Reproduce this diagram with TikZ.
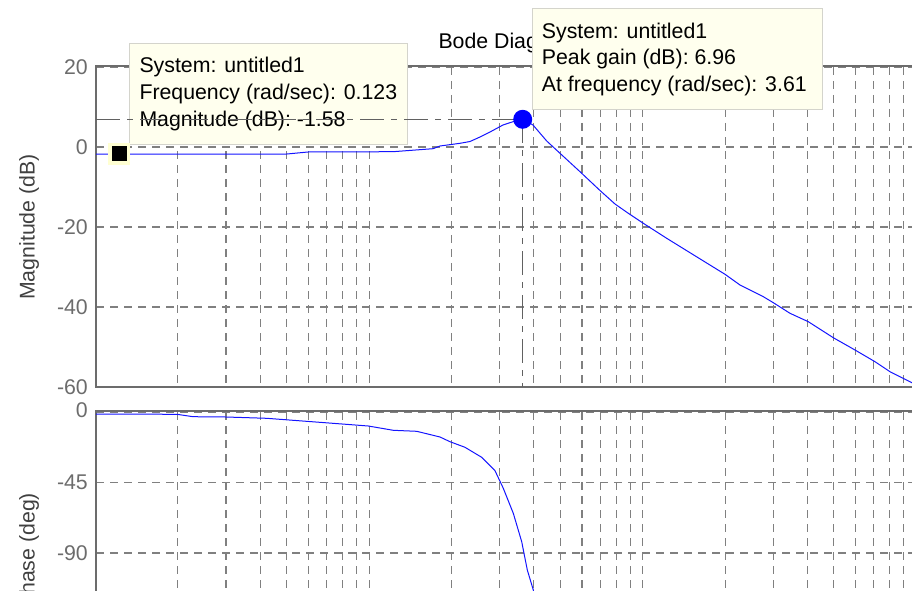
\documentclass[tikz,border=0pt]{standalone}
\usepackage{fontspec}
\setmainfont{Liberation Sans}
\definecolor{tipfill}{RGB}{255,255,238}
\definecolor{tiphalo}{RGB}{255,255,210}
\definecolor{tipedge}{RGB}{212,212,204}
\definecolor{axisgray}{RGB}{108,108,108}
\definecolor{gridgray}{RGB}{128,128,128}
\definecolor{curveblue}{RGB}{20,20,255}
\newcommand{\plotfont}{\fontsize{21.3}{26}\selectfont}
\begin{document}
\begin{tikzpicture}[x=1pt,y=-1pt,
  gridline/.style={draw=gridgray, line width=1.1pt, dash pattern=on 8pt off 6pt},
  axisline/.style={draw=axisgray, line width=1.5pt},
  ticklabel/.style={text=axisgray, font=\plotfont, anchor=east, inner sep=0pt},
  ylab/.style={text=black!75, font=\plotfont, rotate=90, inner sep=0pt},
  response/.style={draw=curveblue, line width=1pt, line join=round},
  tipbox/.style={draw=tipedge, fill=tipfill, line width=1pt, inner sep=0pt, anchor=north west},
  tiptext/.style={anchor=base west, inner sep=0pt, font=\plotfont},
  refline/.style={draw=black!62, line width=1.5pt, dash pattern=on 24pt off 7pt on 6pt off 7pt},
]
\useasboundingbox (0,0) rectangle (912,591);
\clip (0,0) rectangle (912,591);

% title (partly hidden by the peak data tip)
\node[anchor=base west, inner sep=0pt, font=\plotfont] (title) at (438.3,49) {Bode Diagram};

% log-frequency grid, 0.1 ... 100 rad/sec
\foreach \d in {0,1,2}{
  \foreach \m in {2,...,10}{
    \pgfmathsetmacro\gx{95.5+273.6*(\d+log10(\m))}
    \draw[gridline] (\gx,67) -- (\gx,387);
    \draw[gridline] (\gx,412) -- (\gx,600);
  }
}
\foreach \gy in {67.5,147,227,307}{
  \draw[gridline] (96,\gy) -- (920,\gy);
}
\foreach \gy in {412.5,482.5,553}{
  \draw[gridline] (96,\gy) -- (920,\gy);
}

% axes frames
\draw[axisline] (920,66) -- (96,66) -- (96,387) -- (920,387);
\draw[axisline] (920,411) -- (96,411) -- (96,600);

% tick labels
\node[ticklabel] (m20) at (88,67) {20};
\node[ticklabel] (m0) at (88,147.5) {0};
\node[ticklabel] (m-20) at (88,227.5) {-20};
\node[ticklabel] (m-40) at (88,307.5) {-40};
\node[ticklabel] (m-60) at (88,387) {-60};
\node[ticklabel] (p0) at (88,410) {0};
\node[ticklabel] (p-45) at (88,482.5) {-45};
\node[ticklabel] (p-90) at (88,553) {-90};

% axis labels
\node[ylab] (maglabel) at (29,227) {Magnitude (dB)};
\node[ylab] (phaselabel) at (29,551) {Phase (deg)};

% magnitude response
\draw[response] plot coordinates {
  (96,154) (287,154) (308,152) (393,151.7) (433,148.7) (440,146) (460,143.3)
  (470,141.5) (480,137) (490,132) (503,125) (513,121.7) (522.7,119.3)
  (533,125) (546.7,141) (560,153.3) (580,171.7) (600,190.5) (615,204)
  (628.3,213.3) (643.3,223.3) (666.7,238.3) (690,252.7) (725,274.3)
  (740,285) (763.3,296.7) (773.3,302.7) (790,313.3) (808.3,321.7)
  (833.3,337.7) (855,350) (875,361.7) (890,371.7) (912,382.7) (922,388)};

% phase response
\draw[response] plot coordinates {
  (96,414) (177,414.3) (193,416.7) (226,417) (266.7,418.3) (325,422.7)
  (368.3,426) (393.3,430.3) (416.7,431.3) (440,437) (450,441.7)
  (465,447.3) (481.7,457.3) (495,470.7) (503.3,488.3) (513.3,513.3)
  (521.7,541.7) (527.3,570) (533.3,590) (535,600)};

% data tips
\node[tipbox, minimum width=278.3pt, minimum height=101.3pt] (tipA) at (129,42.7) {};
\node[tiptext] (tipA1) at (139.3,72.7) {System: untitled1};
\node[tiptext] (tipA2) at (139.3,99.3) {Frequency (rad/sec): 0.123};
\node[tiptext] (tipA3) at (139.3,126) {Magnitude (dB): -1.58};

\node[tipbox, minimum width=290pt, minimum height=101pt] (tipB) at (531.7,8.3) {};
\node[tiptext] (tipB1) at (541.7,38.3) {System: untitled1};
\node[tiptext] (tipB2) at (541.7,64.9) {Peak gain (dB): 6.96};
\node[tiptext] (tipB3) at (541.7,91.5) {At frequency (rad/sec): 3.61};

% peak reference lines
\coordinate (peakpt) at (522.7,119.3);
\coordinate (peakaxis) at (96,119.3);
\coordinate (peakfloor) at (522.7,387);
\draw[refline] (peakaxis) -- (peakpt);
\draw[refline] (peakpt) -- (peakfloor);

% markers
\node[fill=tiphalo, minimum size=22pt, inner sep=0pt] (haloA) at (119.3,153.5) {};
\node[fill=black, minimum size=15pt, inner sep=0pt] (markA) at (119.3,153.5) {};
\node[circle, fill=blue, minimum size=19pt, inner sep=0pt] (peak) at (peakpt) {};
\end{tikzpicture}
\end{document}
